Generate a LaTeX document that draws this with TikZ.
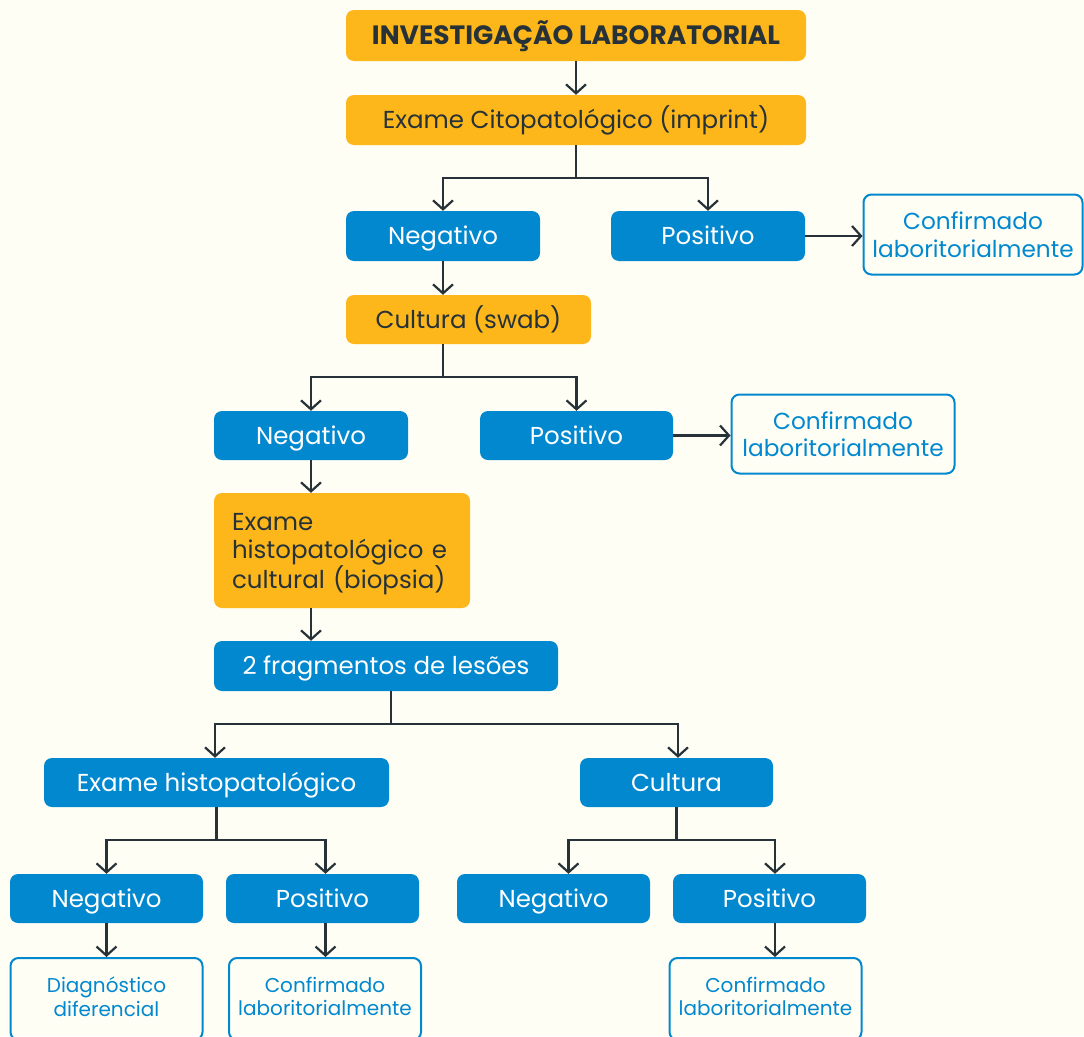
\documentclass[tikz,border=0pt]{standalone}
\usepackage{fontspec}
\setmainfont{Poppins}
\usetikzlibrary{arrows.meta}
\definecolor{bg}{HTML}{FEFEF4}
\definecolor{yel}{HTML}{FDB71A}
\definecolor{blu}{HTML}{0288CF}
\definecolor{ink}{HTML}{263238}
\begin{document}
\begin{tikzpicture}[x=1pt,y=-1pt,
  box/.style={rounded corners=8pt, inner sep=0pt, align=center, font=\fontsize{24.5}{28}\selectfont},
  one/.style={text height=17pt, text depth=0pt},
  ybox/.style={box, fill=yel, text=ink},
  bbox/.style={box, one, fill=blu, text=white},
  obox/.style={box, draw=blu, line width=2pt, text=blu, font=\fontsize{23.2}{27.5}\selectfont},
  sbox/.style={obox, font=\fontsize{20}{23.5}\selectfont},
  conn/.style={draw=ink, line width=2.2pt, -{Straight Barb[length=9pt,width=20pt]}},
  ln/.style={draw=ink, line width=2.2pt}]
\fill[bg] (0,0) rectangle (1084,1036);
\useasboundingbox (0,0) rectangle (1084,1036);

% nodes
\node[ybox, one, minimum width=460pt, minimum height=51pt, font=\fontsize{26.5}{30}\selectfont\bfseries] (title) at (576,35.5) {INVESTIGAÇÃO LABORATORIAL};
\node[ybox, one, minimum width=460pt, minimum height=50pt] (cit) at (576,120) {Exame Citopatológico (imprint)};
\node[bbox, minimum width=194pt, minimum height=50pt] (n1) at (443,236) {Negativo};
\node[bbox, minimum width=194pt, minimum height=50pt] (p1) at (708,236) {Positivo};
\node[obox, minimum width=219pt, minimum height=80pt] (c1) at (973,234.5) {Confirmado\\laboritorialmente};
\node[ybox, one, minimum width=245pt, minimum height=49pt] (swab) at (468.5,319.5) {Cultura (swab)};
\node[bbox, minimum width=194pt, minimum height=49pt] (n2) at (311,435.5) {Negativo};
\node[bbox, minimum width=193pt, minimum height=49pt] (p2) at (576.5,435.5) {Positivo};
\node[obox, minimum width=223pt, minimum height=79pt] (c2) at (843,434) {Confirmado\\laboritorialmente};
\node[ybox, minimum width=256pt, minimum height=115pt, text width=220pt, align=left] (bio) at (342,550.5) {};
\node[ybox, fill=none, text width=220pt, align=left, anchor=center] (biot) at (342,554) {Exame\\histopatológico e\\cultural (biopsia)};
\node[bbox, minimum width=344pt, minimum height=50pt] (frag) at (386,666) {2 fragmentos de lesões};
\node[bbox, minimum width=345pt, minimum height=49pt] (histo) at (216.5,782.5) {Exame histopatológico};
\node[bbox, minimum width=193pt, minimum height=49pt] (cul) at (676.5,782.5) {Cultura};
\node[bbox, minimum width=193pt, minimum height=49pt] (n3) at (106.5,898.5) {Negativo};
\node[bbox, minimum width=193pt, minimum height=49pt] (p3) at (322.5,898.5) {Positivo};
\node[bbox, minimum width=193pt, minimum height=49pt] (n4) at (553.5,898.5) {Negativo};
\node[bbox, minimum width=193pt, minimum height=49pt] (p4) at (769.5,898.5) {Positivo};
\node[sbox, minimum width=192pt, minimum height=82pt] (d3) at (106.5,999) {};
\node[sbox, minimum width=192pt, minimum height=82pt] (c3) at (325,999) {};
\node[sbox, minimum width=192pt, minimum height=82pt] (c4) at (765.5,999) {};
\node[sbox, draw=none] (d3t) at (106.5,996.5) {Diagnóstico\\diferencial};
\node[sbox, draw=none] (c3t) at (325,996.5) {Confirmado\\laboritorialmente};
\node[sbox, draw=none] (c4t) at (765.5,996.5) {Confirmado\\laboritorialmente};

% connectors
\draw[conn] (title.south) -- (cit.north);
\draw[ln] (cit.south) -- ++(0,33) coordinate (s1);
\draw[conn] (s1) -| (n1.north);
\draw[conn] (s1) -| (p1.north);
\draw[conn] (p1.east) -- (c1.west |- p1.east);
\draw[conn] (n1.south) -- (swab.north -| n1);

\draw[ln] (swab.south -| n1) -- ++(0,33) coordinate (s2);
\draw[conn] (s2) -| (n2.north);
\draw[conn] (s2) -| (p2.north);
\draw[conn] (p2.east) -- (c2.west |- p2.east);
\draw[conn] (n2.south) -- (bio.north -| n2);
\draw[conn] (bio.south -| n2) -- (frag.north -| n2);

\draw[ln] ([xshift=5pt]frag.south) -- ++(0,33) coordinate (s3);
\draw[conn] (s3) -| ([xshift=-1.5pt]histo.north);
\draw[conn] (s3) -| ([xshift=1.5pt]cul.north);

\draw[ln] (histo.south) -- ++(0,33) coordinate (s4);
\draw[conn] (s4) -| (n3.north);
\draw[conn] (s4) -| ([xshift=3pt]p3.north);

\draw[ln] (cul.south) -- ++(0,33) coordinate (s5);
\draw[conn] (s5) -| ([xshift=15pt]n4.north);
\draw[conn] (s5) -| ([xshift=5.5pt]p4.north);

\draw[conn] (n3.south) -- (d3.north -| n3);
\draw[conn] ([xshift=3pt]p3.south) -- ([xshift=3pt]c3.north -| p3);
\draw[conn] ([xshift=5.5pt]p4.south) -- ([xshift=5.5pt]c4.north -| p4);
\end{tikzpicture}
\end{document}
